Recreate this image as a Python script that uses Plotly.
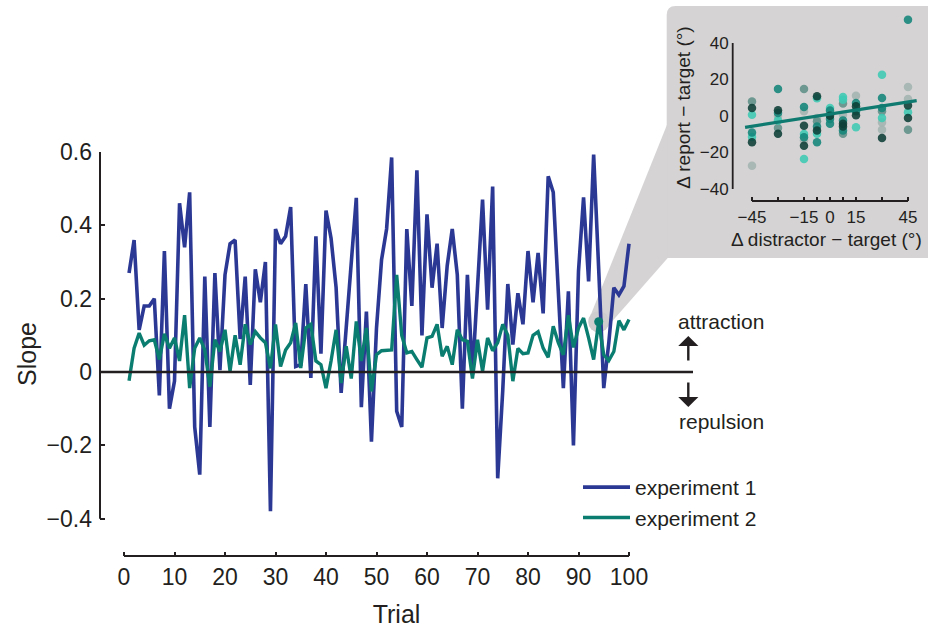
import plotly.graph_objects as go

W, H = 928, 633

trials = list(range(1, 101))
exp1 = [0.27, 0.36, 0.115, 0.18, 0.18, 0.20, -0.064, 0.33, -0.10, -0.025,
        0.46, 0.34, 0.49, -0.15, -0.28, 0.26, -0.15, 0.27, 0.005, 0.265,
        0.35, 0.36, 0.09, 0.26, -0.035, 0.28, 0.19, 0.30, -0.38, 0.39,
        0.35, 0.37, 0.45, 0.015, 0.02, 0.24, -0.016, 0.37, 0.05, 0.44,
        0.365, 0.23, -0.057, 0.12, 0.30, 0.475, -0.096, 0.165, -0.19, 0.12,
        0.306, 0.39, 0.585, -0.107, -0.15, 0.39, 0.18, 0.55, 0.10, 0.43,
        0.23, 0.35, 0.12, 0.29, 0.39, 0.265, -0.10, 0.265, -0.007, 0.22,
        0.47, 0.17, 0.506, -0.29, -0.05, 0.24, 0.075, 0.215, 0.13, 0.33,
        0.19, 0.325, 0.16, 0.534, 0.49, 0.22, -0.044, 0.22, -0.20, 0.275,
        0.476, 0.247, 0.593, 0.28, -0.044, 0.08, 0.23, 0.21, 0.234, 0.35]
exp2 = [-0.024, 0.065, 0.106, 0.073, 0.085, 0.088, 0.034, 0.104, 0.065, 0.093,
        0.03, 0.155, -0.044, 0.065, 0.093, 0.06, -0.04, 0.088, 0.056, 0.115,
        0.002, 0.10, 0.02, 0.13, 0.075, 0.11, 0.093, 0.08, 0.01, 0.13,
        0.015, 0.06, 0.08, 0.134, 0.011, 0.12, 0.13, 0.03, 0.02, -0.044,
        0.03, 0.115, -0.03, 0.07, -0.018, 0.138, 0.03, 0.12, -0.053, 0.047,
        0.058, 0.058, 0.06, 0.265, 0.10, 0.052, 0.056, 0.034, 0.013, 0.093,
        0.097, 0.13, 0.043, 0.07, 0.02, 0.115, 0.088, 0.084, -0.018, 0.088,
        0.002, 0.093, 0.058, 0.08, 0.13, 0.10, -0.025, 0.064, 0.05, 0.052,
        0.10, 0.11, 0.065, 0.04, 0.125, 0.08, 0.047, 0.155, 0.067, 0.12,
        0.147, 0.093, 0.034, 0.137, 0.047, 0.031, 0.056, 0.14, 0.115, 0.143]
highlight_trial = 94

x_ticks = [0, 10, 20, 30, 40, 50, 60, 70, 80, 90, 100]
y_ticks = [-0.4, -0.2, 0, 0.2, 0.4, 0.6]
y_ticktext = ["\u22120.4", "\u22120.2", "0", "0.2", "0.4", "0.6"]

# inset: distractor offset vs report error, grouped by shade
inset_dark_x = [-45, -45, -30, -30, -15, -15, -7.5, -7.5, 0, 7.5, 7.5, 15, 15, 30, 45, 45]
inset_dark_y = [4.4, -14.4, 3.1, -9.7, -5.3, -16.3, 10.8, -7.9, 0.2, -4.2, -5.7, 5.3, 0.4, -12, 5.7, -1.1]
inset_teal_x = [-45, -30, -30, -15, -15, -7.5, -7.5, 0, 0, 0, 7.5, 7.5, 15, 15, 30, 30, 45]
inset_teal_y = [-9.0, 14.8, 1.6, 4.9, -11.7, -5.7, -14.4, 3.0, -1.6, -4.2, -2.4, -8.0, 7.1, 2.6, 9.9, 4.4, 52.8]
inset_light_x = [-45, -45, -30, -15, -15, -7.5, -7.5, 0, 7.5, 7.5, 15, 30, 30, 45]
inset_light_y = [0.7, -11.5, -2.4, -9.9, -23.6, 9.7, -9.7, 4.4, 10.4, 8.9, -6.2, 22.6, -1.1, 2.0]
inset_greyteal_x = [-45, -30, -15, -7.5, 7.5, 7.5, 30, 45]
inset_greyteal_y = [8.0, -6.6, 14.8, -2.9, 6.8, -9.7, 2.6, -7.5]
inset_grey_x = [-45, -30, -15, -15, -7.5, 0, 7.5, 15, 30, 30, 45, 45]
inset_grey_y = [-27.2, 0.0, 2.6, -13.3, -1.1, 1.6, 0.7, 11.1, -3.5, -7.5, 15.9, 9.3]
fit_x = [-49, 50]
fit_y = [-6.2, 8.4]
inset_xticks = [-45, -30, -15, -7.5, 0, 7.5, 15, 30, 45]
inset_xticktext = ["\u221245", "", "\u221215", "", "0", "", "15", "", "45"]
inset_yticks = [-40, -20, 0, 20, 40]
inset_yticktext = ["\u221240", "\u221220", "0", "20", "40"]

BLUE = "#2b3894"
GREEN = "#0b7d70"
INK = "#231f20"
BOXGREY = "#d5d3d4"
FONT = "Liberation Sans, Arial, Helvetica, sans-serif"

def fx(p):
    return p / W

def fy(p):
    return 1 - p / H

# main axes geometry (pixels)
M_L, M_R, M_T, M_B = 100, 693, 152, 556
XR = [-24 / 5.05, (693 - 124) / 5.05]
YR = [-(556 - 372) / 366.67, 0.6]
# inset geometry
I_L, I_R, I_T, I_B = 732.7, 920, 14, 201
XR2 = [-45 - (752 - I_L) / 1.7333, 45 + (I_R - 908) / 1.7333]
YR2 = [-40 - (I_B - 189) / 1.825, 40 + (43 - I_T) / 1.825]

def data_to_px(x, y):
    px = M_L + (x - XR[0]) / (XR[1] - XR[0]) * (M_R - M_L)
    py = M_B - (y - YR[0]) / (YR[1] - YR[0]) * (M_B - M_T)
    return px, py

fig = go.Figure()

# halo behind highlighted point
hx = highlight_trial
hy = exp2[trials.index(highlight_trial)]
fig.add_trace(go.Scatter(x=[hx], y=[hy], mode="markers",
                         marker=dict(size=21, color="#cfcdce"),
                         showlegend=False, hoverinfo="skip", xaxis="x", yaxis="y"))

fig.add_trace(go.Scatter(x=trials, y=exp1, mode="lines", name="experiment 1",
                         line=dict(color=BLUE, width=3.6), xaxis="x", yaxis="y"))
fig.add_trace(go.Scatter(x=trials, y=exp2, mode="lines", name="experiment 2",
                         line=dict(color=GREEN, width=3.4), xaxis="x", yaxis="y"))
fig.add_trace(go.Scatter(x=[hx], y=[hy], mode="markers",
                         marker=dict(size=9, color=GREEN),
                         showlegend=False, hoverinfo="skip", xaxis="x", yaxis="y"))

groups = [
    (inset_grey_x, inset_grey_y, "#a3b4b1"),
    (inset_greyteal_x, inset_greyteal_y, "#5f8f88"),
    (inset_light_x, inset_light_y, "#3ccab4"),
    (inset_teal_x, inset_teal_y, "#13857a"),
    (inset_dark_x, inset_dark_y, "#0c3f37"),
]
for gx, gy, col in groups:
    fig.add_trace(go.Scatter(x=gx, y=gy, mode="markers",
                             marker=dict(size=8.5, color=col, opacity=0.88),
                             showlegend=False, hoverinfo="skip", xaxis="x2", yaxis="y2"))
fig.add_trace(go.Scatter(x=fit_x, y=fit_y, mode="lines",
                         line=dict(color="#0f7b70", width=3.2),
                         showlegend=False, hoverinfo="skip", xaxis="x2", yaxis="y2"))

# callout geometry
tipx, tipy = data_to_px(hx, hy)
box_l, box_t, box_b = 666.7, 6, 258
rad = 9
box_path = (f"M{fx(box_l)},{fy(box_b)} L{fx(box_l)},{fy(box_t + rad)} "
            f"Q{fx(box_l)},{fy(box_t)} {fx(box_l + rad)},{fy(box_t)} "
            f"L{fx(W)},{fy(box_t)} L{fx(W)},{fy(box_b)} Z")
wedge_path = (f"M{fx(box_l + 1)},{fy(123)} L{fx(tipx - 9.5)},{fy(tipy - 3)} "
              f"L{fx(tipx + 6.5)},{fy(tipy + 7.5)} L{fx(box_l + 1)},{fy(box_b)} Z")

shapes = [
    dict(type="path", path=box_path, xref="paper", yref="paper",
         fillcolor=BOXGREY, line=dict(width=0), layer="below"),
    dict(type="path", path=wedge_path, xref="paper", yref="paper",
         fillcolor=BOXGREY, line=dict(width=0), layer="below"),
    # main axis lines
    dict(type="line", xref="x domain", yref="y", x0=0, x1=0, y0=-0.4, y1=0.6,
         line=dict(color=INK, width=2)),
    dict(type="line", xref="x", yref="y domain", x0=0, x1=100, y0=0, y1=0,
         line=dict(color=INK, width=2)),
    # zero line
    dict(type="line", xref="x domain", yref="y", x0=0, x1=1, y0=0, y1=0,
         line=dict(color=INK, width=2.4)),
    # inset axis lines
    dict(type="line", xref="x2 domain", yref="y2", x0=0, x1=0, y0=-40, y1=40,
         line=dict(color=INK, width=1.8)),
    dict(type="line", xref="x2", yref="y2 domain", x0=-45, x1=45, y0=0, y1=0,
         line=dict(color=INK, width=1.8)),
]

annotations = [
    dict(text="attraction", x=fx(721), y=fy(321), xref="paper", yref="paper",
         xanchor="center", yanchor="middle",
         showarrow=False, font=dict(size=21, color=INK, family=FONT)),
    dict(text="repulsion", x=fx(721), y=fy(421), xref="paper", yref="paper",
         xanchor="center", yanchor="middle",
         showarrow=False, font=dict(size=21, color=INK, family=FONT)),
    dict(text="", x=fx(688.3), y=fy(336), xref="paper", yref="paper",
         showarrow=True, ax=0, ay=26, arrowhead=1, arrowsize=1.4,
         arrowwidth=2.4, arrowcolor=INK),
    dict(text="", x=fx(688.3), y=fy(407), xref="paper", yref="paper",
         showarrow=True, ax=0, ay=-26, arrowhead=1, arrowsize=1.4,
         arrowwidth=2.4, arrowcolor=INK),
]

fig.update_layout(
    width=W, height=H,
    margin=dict(l=0, r=0, t=0, b=0, autoexpand=False),
    paper_bgcolor="white", plot_bgcolor="rgba(0,0,0,0)",
    font=dict(family=FONT, color=INK, size=21),
    shapes=shapes, annotations=annotations,
    showlegend=True,
    legend=dict(x=fx(578), y=fy(467), xanchor="left", yanchor="top",
                bgcolor="rgba(0,0,0,0)", font=dict(size=21, color=INK, family=FONT),
                itemwidth=47, tracegroupgap=0),
    xaxis=dict(domain=[fx(M_L), fx(M_R)], range=XR, tickvals=x_ticks,
               ticks="inside", ticklen=4, tickwidth=2, tickcolor=INK,
               showline=False, showgrid=False, zeroline=False,
               tickfont=dict(size=23), ticklabelstandoff=5, anchor="y",
               title=dict(text="Trial", font=dict(size=25), standoff=16)),
    yaxis=dict(domain=[fy(M_B), fy(M_T)], range=YR, tickvals=y_ticks,
               ticktext=y_ticktext,
               ticks="inside", ticklen=5, tickwidth=2, tickcolor=INK,
               showline=False, showgrid=False, zeroline=False,
               tickfont=dict(size=23), ticklabelstandoff=7, anchor="x",
               title=dict(text="Slope", font=dict(size=25), standoff=2)),
    xaxis2=dict(domain=[fx(I_L), fx(I_R)], range=XR2, tickvals=inset_xticks,
                ticktext=inset_xticktext, ticks="inside", ticklen=4, tickwidth=1.6,
                tickcolor=INK, showline=False, showgrid=False, zeroline=False,
                tickfont=dict(size=17), ticklabelstandoff=4, anchor="y2",
                title=dict(text="\u0394 distractor \u2212 target (\u00b0)",
                           font=dict(size=19), standoff=6)),
    yaxis2=dict(domain=[fy(I_B), fy(I_T)], range=YR2, tickvals=inset_yticks,
                ticktext=inset_yticktext, ticks="", showline=False,
                showgrid=False, zeroline=False, tickfont=dict(size=17),
                ticklabelstandoff=3, anchor="x2",
                title=dict(text="\u0394 report \u2212 target (\u00b0)",
                           font=dict(size=19), standoff=4)),
)

fig.write_html("out.html")
